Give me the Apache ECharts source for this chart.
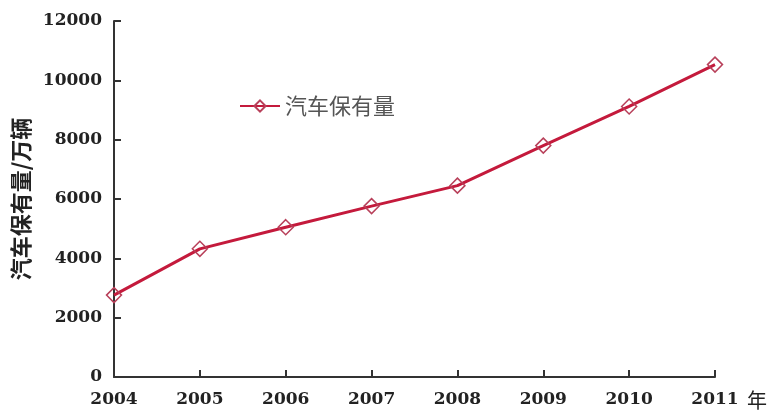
<!DOCTYPE html>
<html>
<head>
<meta charset="utf-8">
<script src="https://cdn.jsdelivr.net/npm/echarts@6/dist/echarts.min.js"></script>
<style>html,body{margin:0;padding:0;background:#fff}#c{width:770px;height:411px}</style>
</head>
<body>
<div id="c"></div>
<script>
const years = ['2004','2005','2006','2007','2008','2009','2010','2011'];
const carStock = [2760, 4320, 5050, 5760, 6450, 7800, 9120, 10530];
const seriesName = '汽车保有量';
const yAxisTitle = '汽车保有量/万辆';
const xAxisUnit = '年';

const chart = echarts.init(document.getElementById('c'));
const serif = '"DejaVu Serif","Liberation Serif","Noto Sans CJK SC",serif';
chart.setOption({
  animation: false,
  backgroundColor: '#fff',
  grid: {left: 114, right: 54, top: 21, bottom: 34},
  legend: {
    left: 234, top: 90,
    itemWidth: 40, itemHeight: 14, itemGap: 8,
    textStyle: {fontSize: 22, color: '#555', fontFamily: '"Noto Sans CJK SC",sans-serif'},
    data: [seriesName]
  },
  xAxis: {
    type: 'category',
    data: years,
    boundaryGap: false,
    name: xAxisUnit,
    nameLocation: 'end',
    nameGap: 32,
    nameTextStyle: {fontSize: 20, color: '#222', fontFamily: '"Noto Sans CJK SC",serif', verticalAlign: 'top', padding: [13, 0, 0, 0]},
    axisLine: {lineStyle: {color: '#333', width: 2}},
    axisTick: {inside: true, length: 7, lineStyle: {color: '#333', width: 2}},
    axisLabel: {fontSize: 17, color: '#222', fontFamily: serif, fontWeight: 'bold', margin: 14}
  },
  yAxis: {
    type: 'value',
    min: 0, max: 12000, interval: 2000,
    name: yAxisTitle,
    nameLocation: 'middle',
    nameGap: 77,
    nameRotate: 90,
    nameTextStyle: {fontSize: 22, color: '#222', fontFamily: '"Noto Sans CJK SC",serif', fontWeight: 'bold'},
    axisLine: {show: true, lineStyle: {color: '#333', width: 2}},
    axisTick: {show: true, inside: true, length: 7, lineStyle: {color: '#333', width: 2}},
    splitLine: {show: false},
    axisLabel: {fontSize: 17, color: '#222', fontFamily: serif, fontWeight: 'bold', margin: 12, formatter: v => String(v)}
  },
  series: [{
    name: seriesName,
    type: 'line',
    data: carStock,
    symbol: 'diamond',
    symbolSize: 15,
    lineStyle: {color: '#c41a3c', width: 3},
    itemStyle: {color: 'rgba(255,255,255,0)', borderColor: '#b8405a', borderWidth: 1.5}
  }]
});
</script>
</body>
</html>
